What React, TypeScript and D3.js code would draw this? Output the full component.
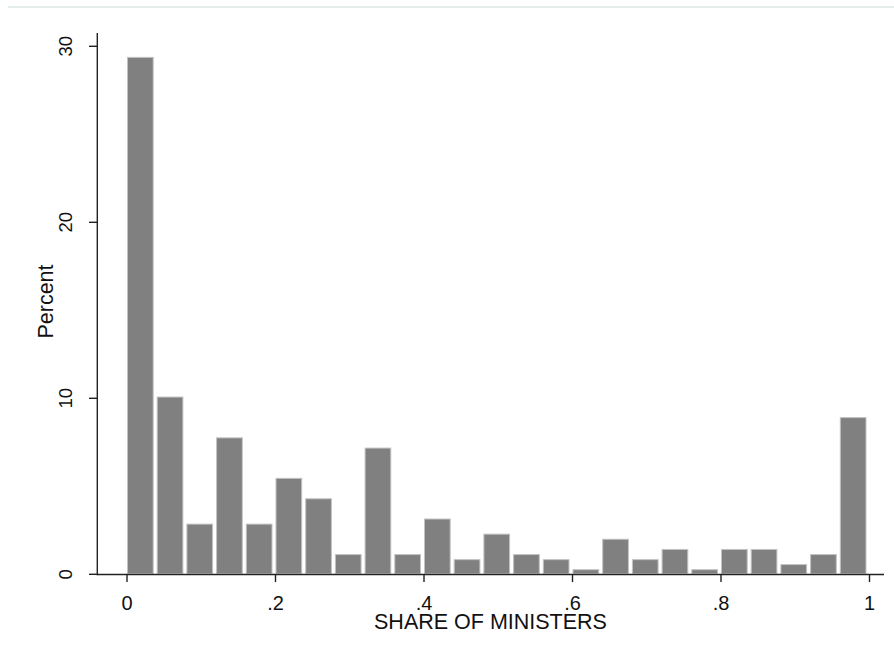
import React from "react";
import * as d3 from "d3";

// Histogram of the share of ministers, 25 bins of width 0.04 on [0, 1]
const binStarts = d3.range(0, 25).map((i) => i * 0.04);
const binWidth = 0.04;
const percents = [
  29.4, 10.1, 2.88, 7.78, 2.88, 5.48, 4.32, 1.15, 7.2, 1.15, 3.17, 0.86, 2.31,
  1.15, 0.86, 0.29, 2.02, 0.86, 1.44, 0.29, 1.44, 1.44, 0.58, 1.15, 8.93,
];
const xTicks = [0, 0.2, 0.4, 0.6, 0.8, 1];
const yTicks = [0, 10, 20, 30];
const xTitle = "SHARE OF MINISTERS";
const yTitle = "Percent";

const W = 894;
const H = 654;
const FONT = "'Liberation Sans', Arial, Helvetica, sans-serif";
const AXIS = "#222";

const fmtX = (v: number) => (v === 0 ? "0" : v === 1 ? "1" : d3.format(".1f")(v).replace(/^0/, ""));

export default function App() {
  const x = d3.scaleLinear().domain([0, 1]).range([127, 869.5]);
  const y = d3.scaleLinear().domain([0, 30]).range([574.3, 46.3]);
  const axisX = 97.3;
  const axisY = 574.5;

  return (
    <svg
      width={W}
      height={H}
      style={{ position: "absolute", left: 0, top: 0, background: "#fff" }}
      fontFamily={FONT}
    >
      <line x1={8} x2={W} y1={7} y2={7} stroke="#e4ecec" strokeWidth={2} />

      {/* bars */}
      {percents.map((p, i) => {
        const x0 = x(binStarts[i]);
        const x1 = x(binStarts[i] + binWidth) - 3;
        const yt = y(p);
        return (
          <rect
            key={i}
            x={x0 + 0.5}
            y={yt + 0.5}
            width={x1 - x0 - 1}
            height={Math.max(0, y(0) - yt - 1)}
            fill="#808080"
            stroke="#c2c2c2"
            strokeWidth={1}
          />
        );
      })}

      {/* y axis */}
      <line x1={axisX} x2={axisX} y1={33} y2={axisY + 0.7} stroke={AXIS} strokeWidth={1.4} />
      {yTicks.map((t) => (
        <g key={t}>
          <line x1={89} x2={axisX} y1={y(t)} y2={y(t)} stroke={AXIS} strokeWidth={1.4} />
          <text
            transform={`translate(72,${y(t)}) rotate(-90)`}
            textAnchor="middle"
            fontSize={18.5}
            fill="#111"
          >
            {t}
          </text>
        </g>
      ))}
      <text
        transform={`translate(53,301.5) rotate(-90)`}
        textAnchor="middle"
        fontSize={21.5}
        fill="#111"
      >
        {yTitle}
      </text>

      {/* x axis */}
      <line x1={axisX} x2={884} y1={axisY} y2={axisY} stroke={AXIS} strokeWidth={1.4} />
      {xTicks.map((t) => (
        <g key={t}>
          <line x1={x(t)} x2={x(t)} y1={axisY} y2={582} stroke={AXIS} strokeWidth={1.4} />
          <text x={x(t)} y={610} textAnchor="middle" fontSize={20} fill="#111">
            {fmtX(t)}
          </text>
        </g>
      ))}
      <text x={490.5} y={629} textAnchor="middle" fontSize={21.5} fill="#111">
        {xTitle}
      </text>
    </svg>
  );
}
